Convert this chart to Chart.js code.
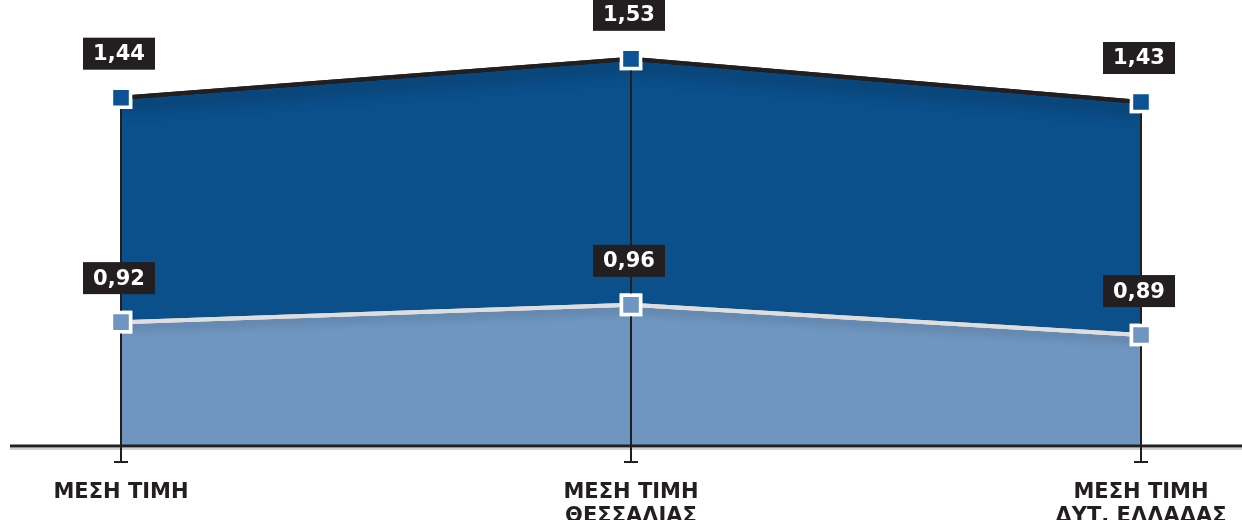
<!DOCTYPE html>
<html>
<head>
<meta charset="utf-8">
<script src="https://cdn.jsdelivr.net/npm/chart.js@4.4.1/dist/chart.umd.min.js"></script>
<style>
  html, body { margin: 0; padding: 0; background: #fff; }
  #wrap { width: 1242px; height: 520px; }
</style>
</head>
<body>
<div id="wrap"><canvas id="chart"></canvas></div>
<script>
// categories and values
const categories = [
    ['ΜΕΣΗ ΤΙΜΗ'],
    ['ΜΕΣΗ ΤΙΜΗ', 'ΘΕΣΣΑΛΙΑΣ'],
    ['ΜΕΣΗ ΤΙΜΗ', 'ΔΥΤ. ΕΛΛΑΔΑΣ']
];
const upperValues = [1.44, 1.53, 1.43];
const lowerValues = [0.92, 0.96, 0.89];

const INK = '#231f20';
const FONT = '"DejaVu Sans"';
const fmt = v => v.toFixed(2).replace('.', ',');

function strokeLine(ctx, pts) {
    ctx.beginPath();
    pts.forEach((p, i) => i ? ctx.lineTo(p.x, p.y) : ctx.moveTo(p.x, p.y));
}

// soft shadow under each line, clipped to the area below it
const lineShadow = {
    id: 'lineShadow',
    afterDatasetDraw(chart, args) {
        const ctx = chart.ctx;
        const area = chart.chartArea;
        const pts = args.meta.data;
        const upper = args.index === 1;
        ctx.save();
        strokeLine(ctx, pts);
        ctx.lineTo(pts[pts.length - 1].x, area.bottom);
        ctx.lineTo(pts[0].x, area.bottom);
        ctx.closePath();
        ctx.clip();
        ctx.shadowColor = upper ? 'rgba(0,0,0,0.55)' : 'rgba(0,0,0,0.25)';
        ctx.shadowBlur = upper ? 16 : 10;
        ctx.shadowOffsetY = upper ? 7 : 4;
        ctx.strokeStyle = upper ? INK : '#dedede';
        ctx.lineWidth = 4;
        strokeLine(ctx, pts);
        ctx.stroke();
        ctx.restore();
        // redraw the line itself crisp on top of its shadow
        ctx.save();
        ctx.strokeStyle = upper ? INK : '#dedede';
        ctx.lineWidth = 4;
        strokeLine(ctx, pts);
        ctx.stroke();
        ctx.restore();
    }
};

// axis line, drop lines, tick marks, then markers and value boxes on top
const overlay = {
    id: 'overlay',
    afterDatasetsDraw(chart) {
        const ctx = chart.ctx;
        const area = chart.chartArea;
        const top = chart.getDatasetMeta(1).data;
        ctx.save();
        ctx.strokeStyle = INK;
        ctx.lineWidth = 2;
        top.forEach(p => {
            ctx.beginPath();
            ctx.moveTo(p.x, p.y);
            ctx.lineTo(p.x, area.bottom + 16);
            ctx.stroke();
            ctx.beginPath();
            ctx.moveTo(p.x - 7, area.bottom + 16);
            ctx.lineTo(p.x + 7, area.bottom + 16);
            ctx.stroke();
        });
        ctx.strokeStyle = 'rgba(0,0,0,0.18)';
        ctx.lineWidth = 2;
        ctx.beginPath();
        ctx.moveTo(10, area.bottom + 3);
        ctx.lineTo(chart.width, area.bottom + 3);
        ctx.stroke();
        ctx.strokeStyle = INK;
        ctx.lineWidth = 3;
        ctx.beginPath();
        ctx.moveTo(10, area.bottom);
        ctx.lineTo(chart.width, area.bottom);
        ctx.stroke();
        ctx.restore();

        // markers back on top of the drop lines
        [1, 0].forEach(i => chart.getDatasetMeta(i).data.forEach(el => el.draw(ctx, area)));

        ctx.save();
        ctx.font = 'bold 21px ' + FONT;
        ctx.textAlign = 'center';
        ctx.textBaseline = 'middle';
        chart.data.datasets.forEach((ds, i) => {
            chart.getDatasetMeta(i).data.forEach((pt, j) => {
                const bw = 72, bh = 32;
                const bx = pt.x - bw / 2 - 2, by = pt.y - 28 - bh;
                ctx.fillStyle = INK;
                ctx.fillRect(bx, by, bw, bh);
                ctx.fillStyle = '#fff';
                ctx.fillText(fmt(ds.data[j]), bx + bw / 2, by + bh / 2 + 1);
            });
        });
        ctx.restore();
    }
};

new Chart(document.getElementById('chart'), {
    type: 'line',
    data: {
        labels: categories,
        datasets: [{
            label: 'lower',
            data: lowerValues,
            fill: 'start',
            backgroundColor: '#6f96c0',
            borderColor: '#dedede',
            borderWidth: 4,
            tension: 0,
            pointStyle: 'rect',
            pointRadius: 13.5,
            pointBorderWidth: 3.5,
            pointBackgroundColor: '#6f96c0',
            pointBorderColor: '#fff'
        }, {
            label: 'upper',
            data: upperValues,
            fill: 'start',
            backgroundColor: '#0b4f8b',
            borderColor: INK,
            borderWidth: 4,
            tension: 0,
            pointStyle: 'rect',
            pointRadius: 13.5,
            pointBorderWidth: 3.5,
            pointBackgroundColor: '#0b5394',
            pointBorderColor: '#fff'
        }]
    },
    options: {
        responsive: true,
        maintainAspectRatio: false,
        animation: false,
        layout: { padding: { left: 121, right: 101, top: 20, bottom: 0 } },
        plugins: {
            legend: { display: false },
            tooltip: { enabled: false },
            title: { display: false }
        },
        scales: {
            x: {
                offset: false,
                grid: { display: false, drawTicks: false },
                border: { display: false },
                afterFit: s => { s.height = 74; s.paddingLeft = 0; s.paddingRight = 0; },
                ticks: {
                    color: INK,
                    padding: 35,
                    maxRotation: 0,
                    autoSkip: false,
                    font: { family: FONT, weight: 'bold', size: 21, lineHeight: 1.12 }
                }
            },
            y: {
                display: false,
                min: 0.633,
                max: 1.62
            }
        }
    },
    plugins: [lineShadow, overlay]
});
</script>
</body>
</html>
